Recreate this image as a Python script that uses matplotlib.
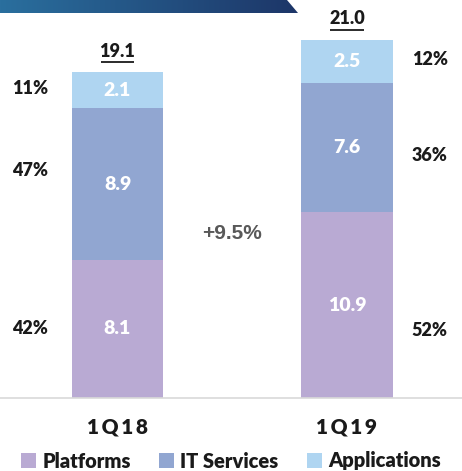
import numpy as np
import matplotlib
matplotlib.use("Agg")
from matplotlib import pyplot as plt
from matplotlib.patches import Polygon

# data
quarters = ["1Q18", "1Q19"]
series = ["Platforms", "IT Services", "Applications"]
platforms = [8.1, 10.9]
it_services = [8.9, 7.6]
applications = [2.1, 2.5]
totals = ["19.1", "21.0"]
shares = [["42%", "47%", "11%"], ["52%", "36%", "12%"]]
growth = "+9.5%"

colors = ["#b9aad3", "#91a6d1", "#afd5f1"]
W, H = 462, 471

fig = plt.figure(figsize=(W / 100, H / 100), dpi=100)
fig.patch.set_facecolor("white")

# axes placed in pixel terms
base_px = 398
ax = fig.add_axes([0, (H - base_px) / H, 1, base_px / H])
px_per_unit = 17.05
ax.set_ylim(0, base_px / px_per_unit)
c0, step = 117.5, 229.5
ax.set_xlim((0 - c0) / step, (W - c0) / step)
ax.set_facecolor("none")
for s in ["top", "right", "left"]:
    ax.spines[s].set_visible(False)
ax.spines["bottom"].set_color("#d9d9d9")
ax.spines["bottom"].set_linewidth(1.2)
ax.set_xticks([])
ax.set_yticks([])

x = np.arange(len(quarters))
bw = 0.4
stack = [platforms, it_services, applications]
bottom = np.zeros(len(quarters))
font = "Lato"
wt = "heavy"
for vals, col, name in zip(stack, colors, series):
    vals = np.array(vals)
    ax.bar(x, vals, bw, bottom=bottom, color=col, label=name)
    for i, v in enumerate(vals):
        ax.text(x[i], bottom[i] + v / 2, f"{v:.1f}", ha="center", va="center",
                color="white", fontsize=14, fontweight=wt, family=font)
    bottom = bottom + vals

# totals, underlined
for i, t in enumerate(totals):
    ty = bottom[i] + 1.25
    ax.text(x[i], ty, t, ha="center", va="center", fontsize=13,
            fontweight=wt, family=font, color="#1a1a1a")
    ax.plot([x[i] - 0.072, x[i] + 0.072], [ty - 0.64, ty - 0.64],
            color="#1a1a1a", lw=1.3, solid_capstyle="butt")

# share labels
pct_shift = [[0.0, 0.8, 0.1], [-1.5, -0.5, 0.1]]
pct_x = [x[0] - 0.38, x[1] + 0.36]
for i in range(len(quarters)):
    b = 0
    for j, vals in enumerate(stack):
        yc = b + vals[i] / 2 + pct_shift[i][j]
        ax.text(pct_x[i], yc, shares[i][j], ha="center", va="center",
                fontsize=13, fontweight=wt, family=font, color="#1a1a1a")
        b += vals[i]

ax.text((x[0] + x[1]) / 2, 9.65, growth, ha="center", va="center",
        fontsize=15, fontweight="bold", family="Liberation Sans", color="#595959")

# category labels
for i, q in enumerate(quarters):
    ax.text(x[i], -1.7, "\u2009".join(q), ha="center", va="center",
            fontsize=15, fontweight=wt, family=font, color="#1a1a1a",
            clip_on=False)

leg = fig.legend(loc="center", bbox_to_anchor=(0.5, 1 - 461 / H), ncol=3,
                 frameon=False, handlelength=0.75, handleheight=0.75,
                 handletextpad=0.3, columnspacing=1.4,
                 prop={"family": font, "weight": wt, "size": 14.5})
for t in leg.get_texts():
    t.set_color("#1a1a1a")

# banner at the top
bax = fig.add_axes([0, 0, 1, 1], zorder=5)
bax.set_xlim(0, W)
bax.set_ylim(H, 0)
bax.axis("off")
grad = np.linspace(0, 1, 256).reshape(1, -1)
cmap = matplotlib.colors.LinearSegmentedColormap.from_list("b", ["#2a6f9e", "#1d3668"])
im = bax.imshow(grad, extent=[0, 298, 13, 0], aspect="auto", cmap=cmap)
poly = Polygon([[0, 0], [287, 0], [298, 13], [0, 13]], closed=True,
               facecolor="none", edgecolor="none")
bax.add_patch(poly)
im.set_clip_path(poly)
bax.set_xlim(0, W)
bax.set_ylim(H, 0)

fig.savefig("out.png", dpi=100)
